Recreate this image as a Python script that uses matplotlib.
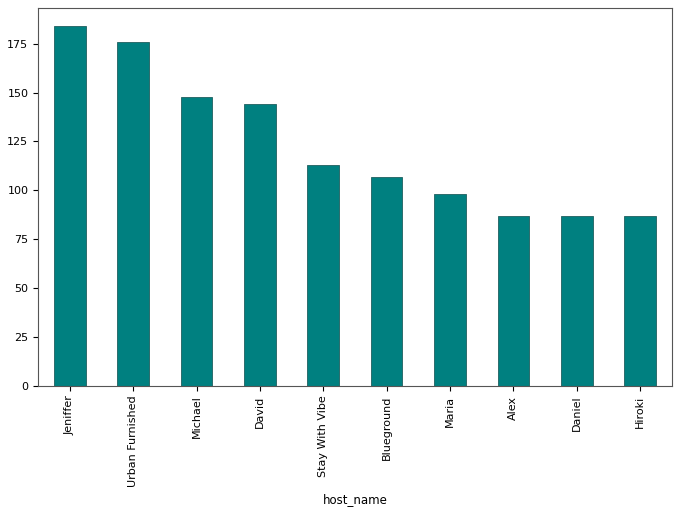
import matplotlib
matplotlib.use("Agg")
import matplotlib.pyplot as plt
import pandas as pd

# Top hosts by listing count
hosts = ["Jeniffer", "Urban Furnished", "Michael", "David", "Stay With Vibe",
         "Blueground", "Maria", "Alex", "Daniel", "Hiroki"]
counts = [184, 176, 148, 144, 113, 107, 98, 87, 87, 87]

s = pd.Series(counts, index=pd.Index(hosts, name="host_name"))

fig, ax = plt.subplots(figsize=(6.8, 5.11), dpi=100)
s.plot(kind="bar", color="teal", edgecolor="#1f5f5f", linewidth=0.6, ax=ax)
ax.tick_params(labelsize=8)
ax.set_xlabel("host_name", fontsize=8.5)
for sp in ax.spines.values():
    sp.set_color("#555555")
fig.subplots_adjust(left=0.056, right=0.988, top=0.984, bottom=0.245)
fig.savefig("out.png")
